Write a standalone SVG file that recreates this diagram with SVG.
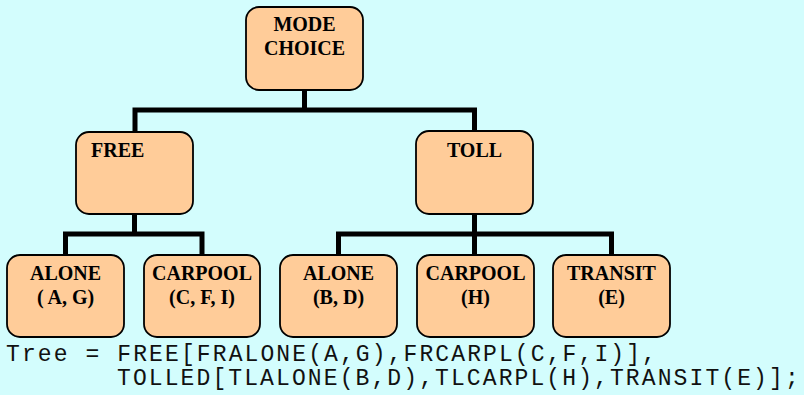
<svg xmlns="http://www.w3.org/2000/svg" width="804" height="395" viewBox="0 0 804 395">
  <style>
    .box { fill: #FFCC99; stroke: #000; stroke-width: 1.8; }
    .lbl { font-family: "Liberation Serif", "Times New Roman", serif; font-weight: bold; font-size: 20px; fill: #000; text-anchor: middle; }
    .wire { fill: none; stroke: #000; stroke-width: 5; stroke-linejoin: miter; stroke-linecap: butt; }
    .code { font-family: "Liberation Mono", "Courier New", monospace; font-size: 23px; letter-spacing: 2.1px; fill: #111; }
  </style>
  <rect width="804" height="395" fill="#D3FDFD"/>

  <!-- tree connectors -->
  <g id="connectors">
    <path class="wire" d="M304.5,90 V110"/>
    <path class="wire" d="M135,132 V110 H474.5 V131"/>
    <path class="wire" d="M134.5,214 V234"/>
    <path class="wire" d="M65.5,255 V234 H202 V255"/>
    <path class="wire" d="M474.5,214 V255"/>
    <path class="wire" d="M338.5,255 V234 H611.5 V255"/>
  </g>

  <g id="mode-choice">
    <rect class="box" x="246" y="7" width="117" height="83" rx="13"/>
    <text class="lbl" x="304.5" y="31">MODE</text>
    <text class="lbl" x="304.5" y="55">CHOICE</text>
  </g>

  <g id="free">
    <rect class="box" x="76" y="132" width="117" height="82" rx="13"/>
    <text class="lbl" x="91" y="157" style="text-anchor:start">FREE</text>
  </g>

  <g id="toll">
    <rect class="box" x="416" y="131" width="117" height="83" rx="13"/>
    <text class="lbl" x="474.5" y="157">TOLL</text>
  </g>

  <g id="free-alone">
    <rect class="box" x="7" y="255" width="117" height="82" rx="13"/>
    <text class="lbl" x="65.5" y="279.5">ALONE</text>
    <text class="lbl" x="65.5" y="303.5">( A, G)</text>
  </g>

  <g id="free-carpool">
    <rect class="box" x="144" y="255" width="116" height="82" rx="13"/>
    <text class="lbl" x="202" y="279.5">CARPOOL</text>
    <text class="lbl" x="202" y="303.5">(C, F, I)</text>
  </g>

  <g id="toll-alone">
    <rect class="box" x="280" y="255" width="117" height="82" rx="13"/>
    <text class="lbl" x="338.5" y="279.5">ALONE</text>
    <text class="lbl" x="338.5" y="303.5">(B, D)</text>
  </g>

  <g id="toll-carpool">
    <rect class="box" x="417" y="255" width="117" height="82" rx="13"/>
    <text class="lbl" x="475.5" y="279.5">CARPOOL</text>
    <text class="lbl" x="475.5" y="303.5">(H)</text>
  </g>

  <g id="transit">
    <rect class="box" x="553" y="255" width="117" height="82" rx="13"/>
    <text class="lbl" x="611.5" y="279.5">TRANSIT</text>
    <text class="lbl" x="611.5" y="303.5">(E)</text>
  </g>

  <!-- tree specification -->
  <text class="code" x="6" y="360.5" xml:space="preserve">Tree = FREE[FRALONE(A,G),FRCARPL(C,F,I)],</text>
  <text class="code" x="117" y="385">TOLLED[TLALONE(B,D),TLCARPL(H),TRANSIT(E)];</text>
</svg>
